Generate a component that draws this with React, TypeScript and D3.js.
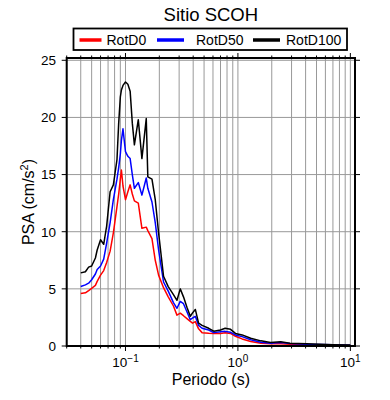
import React from "react";
import * as d3 from "d3";

// Periods (s) and spectral accelerations (cm/s2)
const periods = [
  0.04, 0.044, 0.047, 0.05, 0.054, 0.056, 0.06, 0.064, 0.068, 0.073, 0.078,
  0.084, 0.087, 0.09, 0.092, 0.095, 0.1, 0.105, 0.11, 0.115, 0.12, 0.13, 0.14,
  0.153, 0.158, 0.172, 0.184, 0.197, 0.218, 0.24, 0.267, 0.287, 0.307, 0.328,
  0.352, 0.377, 0.395, 0.418, 0.447, 0.48, 0.55, 0.61, 0.7, 0.77, 0.86, 0.95,
  1.09, 1.3, 1.6, 1.95, 2.4, 2.9, 4.1, 7.0, 10.0,
];
const rotD0 = [
  4.6, 4.65, 4.85, 5.05, 5.3, 5.65, 6.2, 6.6, 7.3, 8.3, 9.9, 12.2, 13.3, 14.6,
  15.4, 14.0, 12.8, 13.5, 14.1, 13.3, 12.7, 12.5, 10.3, 10.4, 10.1, 9.4, 7.5,
  6.2, 5.1, 4.3, 3.5, 2.7, 2.87, 2.65, 2.4, 2.15, 2.0, 2.13, 1.5, 1.17, 1.12,
  1.1, 1.1, 1.15, 1.1, 0.85, 0.62, 0.4, 0.25, 0.2, 0.2, 0.15, 0.1, 0.06, 0.04,
];
const rotD50 = [
  5.2, 5.35, 5.5, 5.8, 6.3, 6.7, 7.0, 7.6, 9.0, 10.8, 12.8, 14.6, 15.6, 16.8,
  18.0, 19.0, 17.0, 16.6, 16.4, 15.0, 13.8, 14.3, 13.2, 14.7, 13.8, 12.6, 10.8,
  8.4, 5.6, 4.8, 3.8, 3.3, 3.9, 3.7, 3.0, 2.3, 2.45, 2.6, 1.8, 1.55, 1.4, 1.17,
  1.25, 1.28, 1.2, 0.97, 0.82, 0.55, 0.32, 0.25, 0.3, 0.22, 0.15, 0.1, 0.07,
];
const rotD100 = [
  6.4, 6.5, 6.9, 7.0, 7.7, 8.4, 9.3, 8.9, 10.5, 13.5, 14.1, 16.3, 19.5, 21.8,
  22.4, 22.8, 23.1, 22.9, 22.3, 19.5, 17.6, 19.8, 16.4, 19.9, 14.8, 14.6, 12.8,
  9.9, 6.1, 5.2, 4.5, 4.0, 5.0, 4.3, 3.4, 2.6, 2.9, 3.2, 2.0, 1.8, 1.55, 1.3,
  1.4, 1.55, 1.46, 1.1, 0.97, 0.68, 0.45, 0.3, 0.38, 0.25, 0.2, 0.12, 0.08,
];

const seriesNames = ["RotD0", "RotD50", "RotD100"];
const seriesColors = ["#ff0000", "#0000ff", "#000000"];
const yTicks = [0, 5, 10, 15, 20, 25];
const xDecades = [0.1, 1, 10];
const xDecadeExp = ["\u22121", "0", "1"];

const W = 390;
const H = 400;
const left = 66.7;
const right = 355;
const top = 58;
const bottom = 346;
const font = "'Liberation Sans', Arial, Helvetica, sans-serif";

// legend layout: [line start, line end, text start]
const legendPos = [
  [79.5, 101.5, 106.5],
  [157, 184, 196],
  [253, 280, 286],
];

export default function App() {
  const x = d3.scaleLog().domain([0.03, 11]).range([left, right]);
  const y = d3.scaleLinear().domain([0, 25.2]).range([bottom, top]);

  const minorX = d3
    .range(-2, 2)
    .flatMap((e) => d3.range(1, 10).map((m) => +(m * Math.pow(10, e)).toPrecision(6)))
    .filter((v) => v >= 0.03 && v <= 11);

  const line = d3
    .line<number>()
    .x((_, i) => x(periods[i]))
    .y((d) => y(d));

  const series = [rotD0, rotD50, rotD100];

  return (
    <div style={{ position: "absolute", left: 0, top: 0 }}>
      <svg width={W} height={H} style={{ display: "block", background: "#fff" }} fontFamily={font}>
        <defs>
          <clipPath id="plot">
            <rect x={left} y={top} width={right - left} height={bottom - top} />
          </clipPath>
        </defs>

        {/* grid */}
        {minorX.map((v) => (
          <line key={"gx" + v} x1={x(v)} x2={x(v)} y1={top} y2={bottom} stroke="#999" strokeWidth={1} />
        ))}
        {yTicks.map((v) => (
          <line key={"gy" + v} x1={left} x2={right} y1={y(v)} y2={y(v)} stroke="#999" strokeWidth={1} />
        ))}

        {/* curves */}
        <g clipPath="url(#plot)">
          {series.map((s, i) => (
            <path key={seriesNames[i]} d={line(s) || ""} fill="none" stroke={seriesColors[i]} strokeWidth={1.5} strokeLinejoin="round" />
          ))}
        </g>

        {/* frame */}
        <rect x={left} y={top} width={right - left} height={bottom - top} fill="none" stroke="#000" strokeWidth={2} />

        {/* x ticks, bottom and top */}
        {minorX.map((v) => {
          const major = xDecades.includes(v);
          const len = major ? 5 : 2.5;
          return (
            <g key={"tx" + v}>
              <line x1={x(v)} x2={x(v)} y1={bottom} y2={bottom + len} stroke="#000" strokeWidth={1} />
              <line x1={x(v)} x2={x(v)} y1={top} y2={top - len} stroke="#000" strokeWidth={1} />
            </g>
          );
        })}
        {xDecades.map((v, i) => (
          <text key={"lx" + v} x={x(v)} y={367} textAnchor="middle" fontSize={13.5} fill="#000">
            10
            <tspan fontSize={10} dy={-5}>
              {xDecadeExp[i]}
            </tspan>
          </text>
        ))}

        {/* y ticks, left and right */}
        {yTicks.map((v) => (
          <g key={"ty" + v}>
            <line x1={left - 5} x2={left} y1={y(v)} y2={y(v)} stroke="#000" strokeWidth={1} />
            <line x1={right} x2={right + 5} y1={y(v)} y2={y(v)} stroke="#000" strokeWidth={1} />
            <text x={56} y={y(v)} dy="0.36em" textAnchor="end" fontSize={13.5} fill="#000">
              {v}
            </text>
          </g>
        ))}

        {/* axis titles */}
        <text x={(left + right) / 2} y={385} textAnchor="middle" fontSize={16} fill="#000">
          Periodo (s)
        </text>
        <text transform={`translate(34,${(top + bottom) / 2}) rotate(-90)`} textAnchor="middle" fontSize={16} fill="#000">
          PSA (cm/s
          <tspan fontSize={11} dy={-6}>
            2
          </tspan>
          <tspan dy={6}>)</tspan>
        </text>

        {/* title */}
        <text x={(left + right) / 2} y={21} textAnchor="middle" fontSize={18.5} fill="#000">
          Sitio SCOH
        </text>

        {/* legend */}
        <rect x={73.5} y={28.5} width={273.5} height={21.5} fill="#fff" stroke="#000" strokeWidth={1.8} />
        {seriesNames.map((name, i) => (
          <g key={"lg" + name}>
            <line x1={legendPos[i][0]} x2={legendPos[i][1]} y1={40} y2={40} stroke={seriesColors[i]} strokeWidth={3.5} />
            <text x={legendPos[i][2]} y={44.5} fontSize={14} fill="#000">
              {name}
            </text>
          </g>
        ))}
      </svg>
    </div>
  );
}
